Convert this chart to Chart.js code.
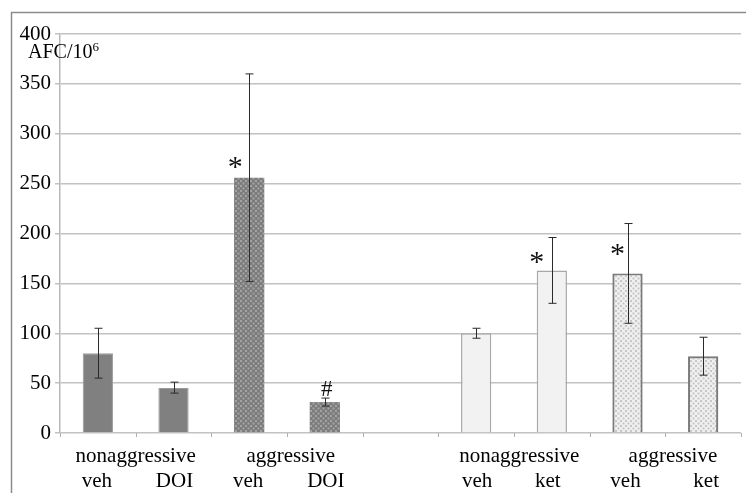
<!DOCTYPE html>
<html><head><meta charset="utf-8">
<script src="https://cdn.jsdelivr.net/npm/chart.js@4/dist/chart.umd.min.js"></script>
<style>html,body{margin:0;padding:0;background:#fff}#wrap{width:746px;height:493px}</style>
</head><body><div id="wrap"><canvas id="c" width="746" height="493"></canvas></div>
<script>
const categories = ['veh','DOI','veh','DOI','','veh','ket','veh','ket'];
const values   = [80, 45, 256, 31, null, 100, 163, 160, 77];
const errLow   = [55, 40, 152, 27, null, 95, 130, 110, 58];
const errHigh  = [105, 51, 360, 35, null, 105, 196, 210, 96];
const marks    = ['', '', '*', '#', '', '', '*', '*', ''];
const groupLabels = ['nonaggressive','aggressive','nonaggressive','aggressive'];
const groupPos    = [0.5, 2.55, 5.57, 7.6];
const yTicks   = [0,50,100,150,200,250,300,350,400];
const yTitle = 'AFC/10', ySup = '6';

function pattern(base, dot){
  const t=document.createElement('canvas'); t.width=5; t.height=5;
  const g=t.getContext('2d'); g.fillStyle=base; g.fillRect(0,0,5,5);
  g.fillStyle=dot; g.fillRect(0,0,2,2); g.fillRect(2.5,2.5,2,2);
  return document.getElementById('c').getContext('2d').createPattern(t,'repeat');
}
const FONT = '"Liberation Serif", "DejaVu Serif", serif';

function build(){
const darkPat = pattern('#7c7c7c','#a4a4a4');
const lightPat = pattern('#f0f0f0','#c6c6c6');
const fills = ['#808080','#808080',darkPat,darkPat,'#fff','#f2f2f2','#f2f2f2',lightPat,lightPat];
const borders = ['#9a9a9a','#9a9a9a','#8a8a8a','#8a8a8a','#fff','#a8a8a8','#a8a8a8','#7a7a7a','#7a7a7a'];
const bw = [1,1,0,0,0,1.5,1.5,2.2,2.2];

const overlay = {
  id:'overlay',
  afterDatasetsDraw(chart){
    const ctx=chart.ctx, x=chart.scales.x, y=chart.scales.y, a=chart.chartArea;
    ctx.save();
    ctx.strokeStyle='#2a2a2a'; ctx.lineWidth=1;
    values.forEach((v,i)=>{
      if(v==null) return;
      const px=Math.round(x.getPixelForValue(i))+0.5, y1=y.getPixelForValue(errLow[i]), y2=y.getPixelForValue(errHigh[i]);
      ctx.beginPath(); ctx.moveTo(px,y1); ctx.lineTo(px,y2);
      ctx.moveTo(px-4,y1); ctx.lineTo(px+4,y1); ctx.moveTo(px-4,y2); ctx.lineTo(px+4,y2); ctx.stroke();
    });
    ctx.fillStyle='#111'; ctx.textAlign='center'; ctx.textBaseline='middle';
    const mdx=[0,0,-14,2,0,0,-15,-10,0], mdy=[0,0,-15,-12,0,0,-12,-23,0];
    marks.forEach((m,i)=>{
      if(!m) return;
      ctx.font=(m==='*'?'30px ':'23px ')+FONT;
      ctx.fillText(m, x.getPixelForValue(i)+mdx[i], y.getPixelForValue(values[i])+mdy[i]+(m==='*'?5:0));
    });
    ctx.strokeStyle='#b0b0b0'; ctx.lineWidth=1;
    for(let i=0;i<=categories.length;i++){
      const px=Math.round(x.getPixelForValue(i-0.5))+0.5;
      ctx.beginPath(); ctx.moveTo(px,a.bottom); ctx.lineTo(px,a.bottom+4); ctx.stroke();
    }
    ctx.fillStyle='#000'; ctx.font='21px '+FONT; ctx.textBaseline='alphabetic';
    const cdx=[-1,1,-1,1,0,1,-4,-2,3];
    categories.forEach((c,i)=>{ if(c) ctx.fillText(c, x.getPixelForValue(i)+cdx[i], a.bottom+54); });
    groupLabels.forEach((g,i)=>{ ctx.fillText(g, x.getPixelForValue(groupPos[i]), a.bottom+29); });
    ctx.textAlign='left';
    ctx.font='20px '+FONT; ctx.fillText(yTitle, 28, 58);
    const w=ctx.measureText(yTitle).width;
    ctx.font='13px '+FONT; ctx.fillText(ySup, 28+w, 51);
    ctx.strokeStyle='#8c8c8c'; ctx.lineWidth=1.5;
    ctx.beginPath(); ctx.moveTo(11.5,493); ctx.lineTo(11.5,12.5); ctx.lineTo(746,12.5); ctx.stroke();
    ctx.restore();
  }
};

new Chart(document.getElementById('c'),{
  type:'bar',
  data:{labels:categories,datasets:[{data:values,backgroundColor:fills,borderColor:borders,borderWidth:bw,
    barPercentage:0.4,categoryPercentage:1,borderSkipped:'bottom'}]},
  options:{
    responsive:false,animation:false,devicePixelRatio:1,
    layout:{padding:{left:0,right:5,top:34,bottom:60}},
    plugins:{legend:{display:false},tooltip:{enabled:false}},
    scales:{
      x:{display:false},
      y:{min:0,max:400,
        afterFit(s){s.width=60;},
        afterBuildTicks(s){s.ticks=yTicks.map(v=>({value:v}));},
        border:{display:true,color:'#b8b8b8',width:1.5},
        grid:{color:'#c2c2c2',lineWidth:1.5,tickLength:5,drawTicks:true},
        ticks:{color:'#000',font:{family:FONT,size:21},padding:4}
      }
    }
  },
  plugins:[overlay]
});
}
if (document.fonts && document.fonts.load) {
  Promise.all([document.fonts.load('21px "Liberation Serif"'),document.fonts.load('21px "DejaVu Serif"')]).then(build, build);
} else build();
</script></body></html>
